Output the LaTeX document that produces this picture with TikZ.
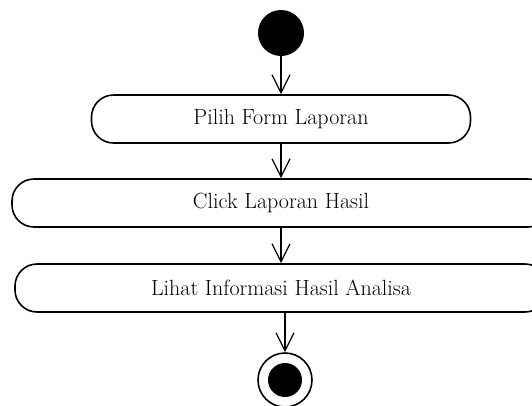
\documentclass[tikz,border=0pt]{standalone}
\usepackage{fontspec}
\setmainfont{Latin Modern Roman}
\usetikzlibrary{arrows.meta}
\begin{document}
\begin{tikzpicture}[x=1pt,y=-1pt,
  act/.style={draw,line width=1.6pt,rounded corners=22pt,minimum height=48pt,inner sep=0pt,font=\fontsize{22}{26}\selectfont},
  flow/.style={line width=1.3pt,-{Straight Barb[length=18pt,width=18pt,line width=1.3pt]}},
  startnode/.style={circle,fill=black,minimum size=46pt,inner sep=0pt},
  endring/.style={circle,draw,line width=1.6pt,minimum size=54pt,inner sep=0pt},
  enddot/.style={circle,fill=black,minimum size=34pt,inner sep=0pt}]
\useasboundingbox (0,0) rectangle (532,405);
\clip (0,0) rectangle (532,405);
\node[startnode] (s) at (281,33) {};
\node[act,minimum width=379pt] (a1) at (281,119) {Pilih Form Laporan};
\node[act,minimum width=538pt] (a2) at (281,203) {Click Laporan Hasil};
\node[act,minimum width=532pt] (a3) at (281,288) {Lihat Informasi Hasil Analisa};
\node[endring] (e) at (285,380) {};
\node[enddot] (ed) at (e.center) {};
\draw[flow] (s) -- (a1);
\draw[flow] (a1) -- (a2);
\draw[flow] (a2) -- (a3);
\draw[flow] (a3.south -| e) -- (e);
\end{tikzpicture}
\end{document}
